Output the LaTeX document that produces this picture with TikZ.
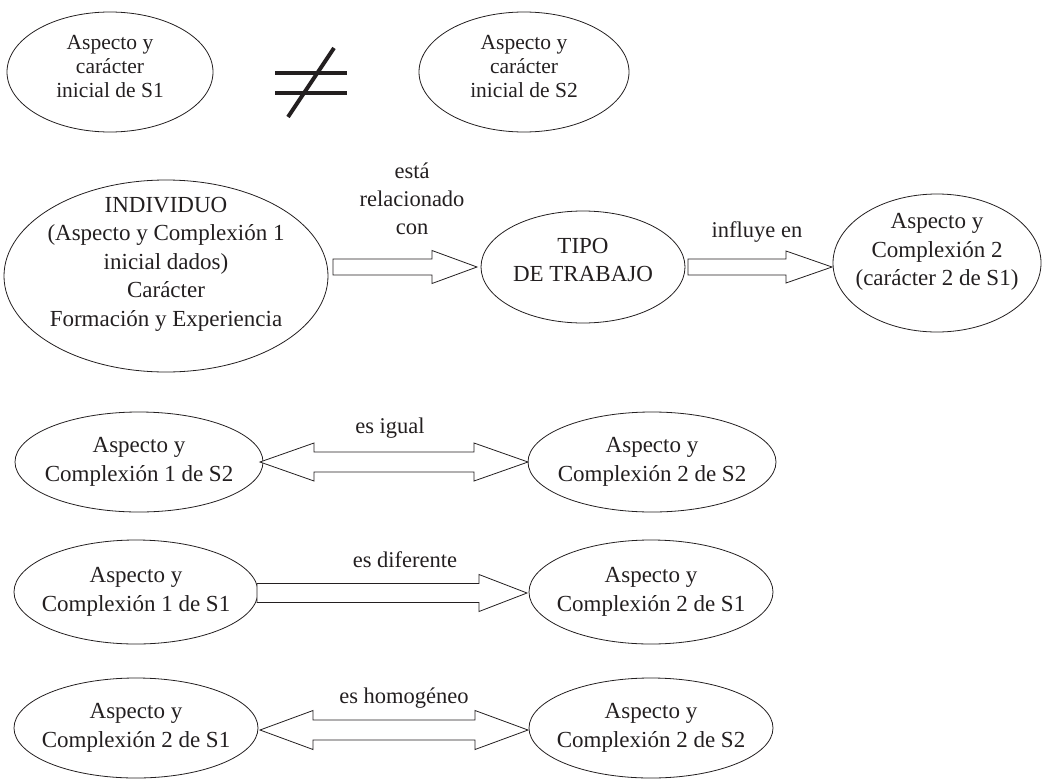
\documentclass[tikz,border=0pt]{standalone}
\usepackage{fontspec}
\setmainfont{Liberation Serif}
\usetikzlibrary{shapes.geometric,calc}
\definecolor{ink}{HTML}{231F20}
\newcommand\blkarrow[5]{% start, end, body half, head half, head length
  \draw[arr] ($(#1)+(0,-#3)$) -- ($(#2)+(-#5,-#3)$) -- ($(#2)+(-#5,-#4)$) -- (#2)
    -- ($(#2)+(-#5,#4)$) -- ($(#2)+(-#5,#3)$) -- ($(#1)+(0,#3)$) -- cycle;}
\newcommand\dblarrow[5]{%
  \draw[arr] (#1) -- ($(#1)+(#5,-#4)$) -- ($(#1)+(#5,-#3)$) -- ($(#2)+(-#5,-#3)$)
    -- ($(#2)+(-#5,-#4)$) -- (#2) -- ($(#2)+(-#5,#4)$) -- ($(#2)+(-#5,#3)$)
    -- ($(#1)+(#5,#3)$) -- ($(#1)+(#5,#4)$) -- cycle;}
\begin{document}
\begin{tikzpicture}[x=1pt,y=-1pt,
  ell/.style 2 args={draw=ink, line width=0.8pt, ellipse, inner sep=0pt,
    minimum width=#1pt, minimum height=#2pt},
  txt/.style={align=center, font=\fontsize{23}{28.5}\selectfont, text=ink, inner sep=0pt},
  smalltxt/.style={align=center, font=\fontsize{21.5}{24}\selectfont, text=ink, inner sep=0pt},
  lbl/.style={align=center, font=\fontsize{22.5}{28}\selectfont, text=ink, inner sep=0pt, anchor=base},
  arr/.style={draw=ink, line width=0.8pt, fill=white},
  neq/.style={draw=ink, line width=3.6pt}]
\useasboundingbox (0,0) rectangle (1043,779);

% top row
\node[ell={206}{120}] (e1) at (110,72) {};
\node[smalltxt] (e1t) at ($(e1)+(0,-5)$) {Aspecto y\\carácter\\inicial de S1};
\node[ell={210}{120}] (e2) at (524,72) {};
\node[smalltxt] (e2t) at ($(e2)+(0,-5)$) {Aspecto y\\carácter\\inicial de S2};
\coordinate (n1a) at (275,72.7); \coordinate (n1b) at (347,72.7);
\coordinate (n2a) at (275,92.7); \coordinate (n2b) at (347,92.7);
\coordinate (n3a) at (334,48); \coordinate (n3b) at (288,117);
\draw[neq] (n1a) -- (n1b);
\draw[neq] (n2a) -- (n2b);
\draw[neq, line width=4pt] (n3a) -- (n3b);

% second row
\node[ell={324}{192}] (ind) at (166,276) {};
\node[txt] (indt) at ($(ind)+(0,-12)$) {INDIVIDUO\\(Aspecto y Complexión 1\\inicial dados)\\Carácter\\Formación y Experiencia};
\node[ell={204}{112}] (tipo) at (583,267) {};
\node[txt] (tipot) at ($(tipo)+(0,-7)$) {TIPO\\DE TRABAJO};
\node[ell={208}{138}] (asp2) at (937,263) {};
\node[txt] (asp2t) at ($(asp2)+(0,-11)$) {Aspecto y\\Complexión 2\\(carácter 2 de S1)};

\coordinate (a1s) at (333,267); \coordinate (a1e) at (477,267);
\blkarrow{a1s}{a1e}{8}{16.5}{45}
\node[lbl] (a1l) at (412,234) {está\\relacionado\\con};
\coordinate (a2s) at (688,267); \coordinate (a2e) at (832,267);
\blkarrow{a2s}{a2e}{8}{16}{46}
\node[lbl] (a2l) at (757,237) {influye en};

% row 3
\node[ell={248}{100}] (r3l) at (139,462) {};
\node[txt] (r3lt) at (r3l) {Aspecto y\\Complexión 1 de S2};
\node[ell={248}{100}] (r3r) at (652,462) {};
\node[txt] (r3rt) at (r3r) {Aspecto y\\Complexión 2 de S2};
\coordinate (a3s) at (260,462); \coordinate (a3e) at (528,462);
\dblarrow{a3s}{a3e}{10}{19}{54}
\node[lbl] (a3l) at (390,433) {es igual};

% row 4
\node[ell={244}{104}] (r4l) at (136,592) {};
\node[txt] (r4lt) at (r4l) {Aspecto y\\Complexión 1 de S1};
\node[ell={244}{104}] (r4r) at (651,592) {};
\node[txt] (r4rt) at (r4r) {Aspecto y\\Complexión 2 de S1};
\coordinate (a4s) at (257,593); \coordinate (a4e) at (527,593);
\blkarrow{a4s}{a4e}{9.5}{18.5}{48}
\node[lbl] (a4l) at (405,567) {es diferente};

% row 5
\node[ell={244}{100}] (r5l) at (136,728) {};
\node[txt] (r5lt) at (r5l) {Aspecto y\\Complexión 2 de S1};
\node[ell={244}{100}] (r5r) at (651,728) {};
\node[txt] (r5rt) at (r5r) {Aspecto y\\Complexión 2 de S2};
\coordinate (a5s) at (260,730); \coordinate (a5e) at (528,730);
\dblarrow{a5s}{a5e}{10}{19.5}{53}
\node[lbl] (a5l) at (404,703) {es homogéneo};
\end{tikzpicture}
\end{document}
